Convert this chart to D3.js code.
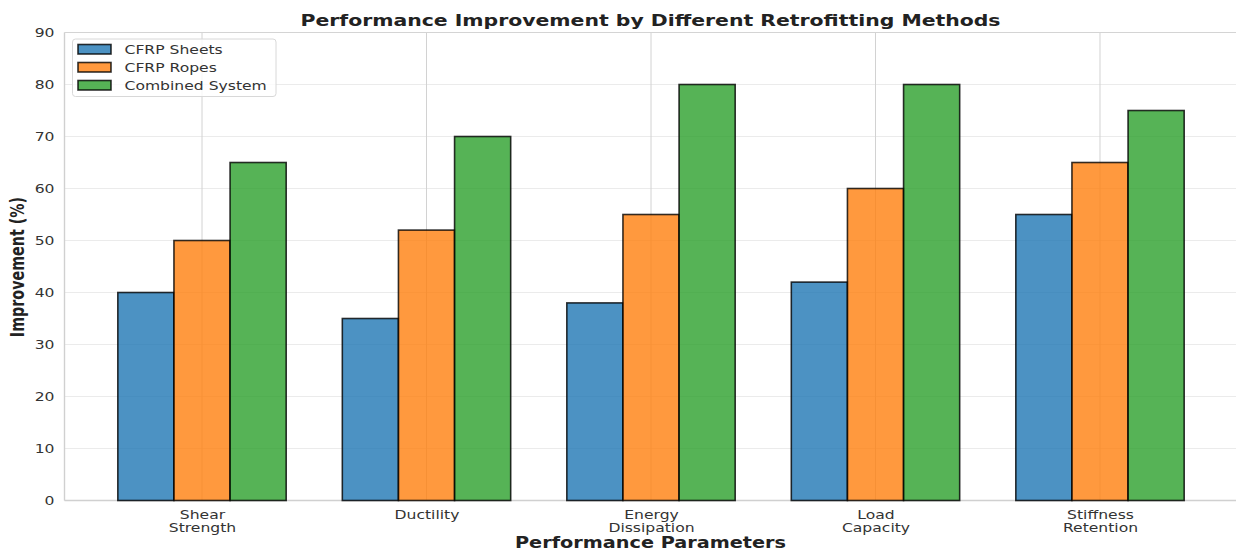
<!DOCTYPE html>
<html>
<head>
<meta charset="utf-8">
<script src="https://cdn.jsdelivr.net/npm/d3@7"></script>
<style>
  html, body { margin: 0; padding: 0; background: #fff; }
  svg { display: block; font-family: "DejaVu Sans", sans-serif; }
</style>
</head>
<body>
<svg id="chart" width="1236" height="552"></svg>
<script>
// Parameters measured for each retrofitting method
const categories = ["Shear\nStrength", "Ductility", "Energy\nDissipation", "Load\nCapacity", "Stiffness\nRetention"];
const seriesNames = ["CFRP Sheets", "CFRP Ropes", "Combined System"];
const cfrpSheets = [40, 35, 38, 42, 55];
const cfrpRopes = [50, 52, 55, 60, 65];
const combinedSystem = [65, 70, 80, 80, 75];
const yTicks = [0, 10, 20, 30, 40, 50, 60, 70, 80, 90];

const series = [cfrpSheets, cfrpRopes, combinedSystem];
const colors = ["#1f77b4", "#ff7f0e", "#2ca02c"];

const svg = d3.select("#chart");
const SX = 1.3;           // horizontal text stretch
const plot = { left: 64.5, right: 1237.5, top: 32.5, bottom: 500.5 };

const barW = 0.25;
const x = d3.scaleLinear().domain([-0.6125, categories.length - 1 + 0.6125]).range([plot.left, plot.right]);
const y = d3.scaleLinear().domain([0, 90]).range([plot.bottom, plot.top]);

// horizontal grid (faint)
svg.append("g").selectAll("line").data(yTicks).join("line")
  .attr("x1", plot.left).attr("x2", plot.right)
  .attr("y1", d => y(d)).attr("y2", d => y(d))
  .attr("stroke", "#ebebeb").attr("stroke-width", 1);

// vertical grid at category centres
svg.append("g").selectAll("line").data(d3.range(categories.length)).join("line")
  .attr("x1", d => x(d)).attr("x2", d => x(d))
  .attr("y1", plot.top).attr("y2", plot.bottom)
  .attr("stroke", "#d2d2d2").attr("stroke-width", 1);

// spines
svg.append("line").attr("x1", plot.left).attr("x2", plot.right).attr("y1", plot.top).attr("y2", plot.top)
  .attr("stroke", "#d4d4d4").attr("stroke-width", 1.2);
svg.append("line").attr("x1", plot.left).attr("x2", plot.right).attr("y1", plot.bottom).attr("y2", plot.bottom)
  .attr("stroke", "#d0d0d0").attr("stroke-width", 1.4);
svg.append("line").attr("x1", plot.left).attr("x2", plot.left).attr("y1", plot.top).attr("y2", plot.bottom)
  .attr("stroke", "#d0d0d0").attr("stroke-width", 1.4);

// bars
series.forEach((vals, si) => {
  const off = (si - 1) * barW;
  svg.append("g").selectAll("rect").data(vals).join("rect")
    .attr("x", (d, i) => x(i + off - barW / 2))
    .attr("width", x(barW) - x(0))
    .attr("y", d => y(d))
    .attr("height", d => y(0) - y(d))
    .attr("fill", colors[si]).attr("fill-opacity", 0.8)
    .attr("stroke", "#000").attr("stroke-opacity", 0.8).attr("stroke-width", 1.6);
});

// y axis
const yAxis = svg.append("g").attr("transform", `translate(${plot.left},0)`)
  .call(d3.axisLeft(y).tickValues(yTicks).tickSize(0).tickPadding(0));
yAxis.select(".domain").remove();
yAxis.selectAll("text")
  .attr("x", 0).attr("dy", "0.34em")
  .attr("transform", `translate(-10,0) scale(${SX},1)`)
  .attr("font-size", 12).attr("fill", "#333")
  .attr("font-family", "DejaVu Sans");

// x axis with multi-line labels
const xAxis = svg.append("g").attr("transform", `translate(0,${plot.bottom})`)
  .call(d3.axisBottom(x).tickValues(d3.range(categories.length)).tickSize(0).tickFormat(() => ""));
xAxis.select(".domain").remove();
xAxis.selectAll(".tick text").each(function (d) {
  const t = d3.select(this)
    .attr("y", 0).attr("dy", null)
    .attr("transform", `scale(${SX},1)`)
    .attr("font-size", 12).attr("fill", "#333")
    .attr("font-family", "DejaVu Sans");
  categories[d].split("\n").forEach((line, k) => {
    t.append("tspan").attr("x", 0).attr("y", 18.5 + k * 13.5).text(line);
  });
});

// title
svg.append("text")
  .attr("x", 650.5).attr("y", 26)
  .attr("text-anchor", "middle")
  .attr("font-size", 16).attr("font-weight", "bold").attr("fill", "#222")
  .attr("textLength", 700).attr("lengthAdjust", "spacingAndGlyphs")
  .text("Performance Improvement by Different Retrofitting Methods");

// x label
svg.append("text")
  .attr("x", 650.5).attr("y", 547.5)
  .attr("text-anchor", "middle")
  .attr("font-size", 15).attr("font-weight", "bold").attr("fill", "#222")
  .attr("textLength", 271).attr("lengthAdjust", "spacingAndGlyphs")
  .text("Performance Parameters");

// y label
svg.append("text")
  .attr("transform", `translate(24,267) scale(${SX},1) rotate(-90)`)
  .attr("text-anchor", "middle")
  .attr("font-size", 14.3).attr("font-weight", "bold").attr("fill", "#222")
  .text("Improvement (%)");

// legend
const lg = svg.append("g");
lg.append("rect")
  .attr("x", 72.5).attr("y", 39).attr("width", 203.5).attr("height", 57.5).attr("rx", 3)
  .attr("fill", "#fff").attr("fill-opacity", 0.8)
  .attr("stroke", "#d8d8d8").attr("stroke-width", 1);
seriesNames.forEach((name, i) => {
  const yy = 44.5 + i * 18;
  lg.append("rect")
    .attr("x", 78).attr("y", yy).attr("width", 33).attr("height", 9.5)
    .attr("fill", colors[i]).attr("fill-opacity", 0.8)
    .attr("stroke", "#000").attr("stroke-opacity", 0.8).attr("stroke-width", 1.6);
  lg.append("text")
    .attr("transform", `translate(124.5,${yy + 9.5}) scale(${SX},1)`)
    .attr("font-size", 12).attr("fill", "#333")
    .text(name);
});
</script>
</body>
</html>
